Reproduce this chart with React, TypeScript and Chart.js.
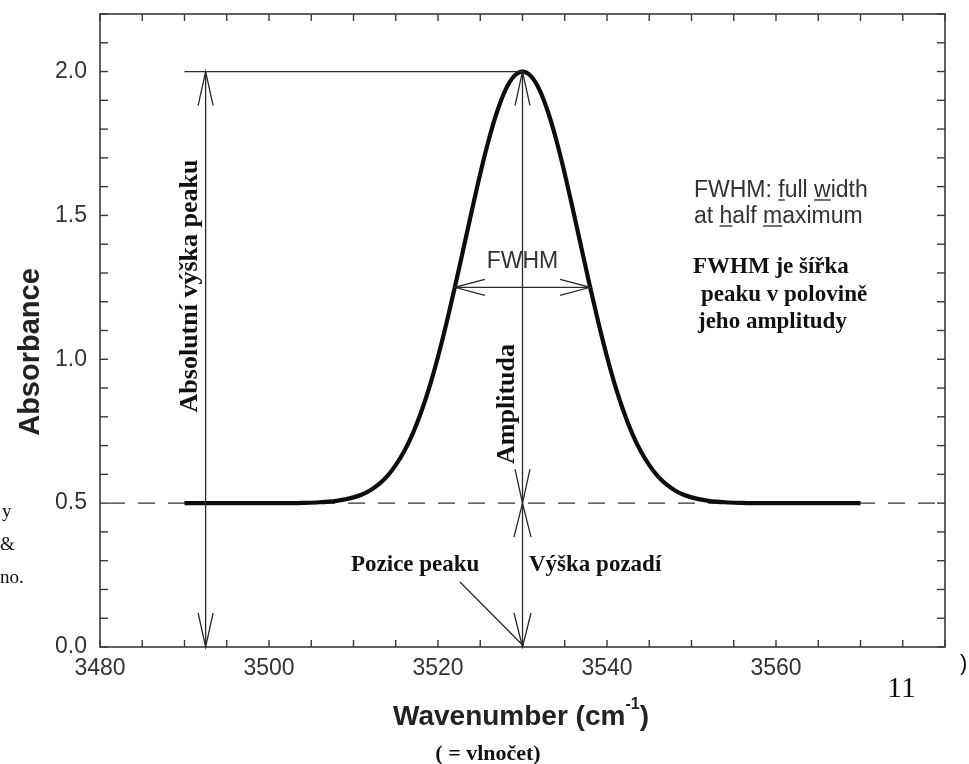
import React, { useEffect, useRef } from "react";
import { Chart, registerables } from "chart.js";

Chart.register(...registerables);

// Absorption band: wavenumber (cm^-1) and absorbance
const wavenumber = [
  3490, 3494, 3498, 3502, 3504, 3506, 3508, 3509, 3510, 3511, 3512, 3513, 3514,
  3515, 3516, 3517, 3518, 3519, 3520, 3521, 3522, 3523, 3524, 3525, 3526, 3527,
  3528, 3529, 3530, 3531, 3532, 3533, 3534, 3535, 3536, 3537, 3538, 3539, 3540,
  3541, 3542, 3543, 3544, 3545, 3546, 3547, 3548, 3549, 3550, 3551, 3552, 3554,
  3556, 3558, 3562, 3566, 3570,
];
const absorbance = [
  0.5, 0.5, 0.5, 0.5, 0.501, 0.503, 0.508, 0.513, 0.52, 0.53, 0.545, 0.566, 0.594,
  0.632, 0.68, 0.741, 0.816, 0.905, 1.009, 1.125, 1.251, 1.383, 1.516, 1.645, 1.762, 1.861,
  1.937, 1.984, 2.0, 1.984, 1.937, 1.861, 1.762, 1.645, 1.516, 1.383, 1.251, 1.125, 1.009,
  0.905, 0.816, 0.741, 0.68, 0.632, 0.594, 0.566, 0.545, 0.53, 0.52, 0.513, 0.508, 0.503,
  0.501, 0.5, 0.5, 0.5, 0.5,
];

// Axis tick labels
const xTickLabels = [3480, 3500, 3520, 3540, 3560];
const yTickLabels = [0.0, 0.5, 1.0, 1.5, 2.0];

// Peak parameters used by the annotation marks
const peakPosition = 3530;
const peakHeight = 2.0;
const backgroundLevel = 0.5;
const halfMaximum = 1.25;
const fwhmFrom = 3522;
const fwhmTo = 3538;
const absoluteArrowX = 3492.5;
const peakLineFrom = 3490;
const pointerFrom = { x: 3522.6, y: 0.226 };

const SANS = '"Liberation Sans", Arial, sans-serif';
const SERIF = '"Liberation Serif", "Times New Roman", serif';
const INK = "#2a2a2a";

function arrowHead(
  ctx: CanvasRenderingContext2D,
  tx: number,
  ty: number,
  dx: number,
  dy: number,
  len: number,
  half: number
) {
  const bx = tx - dx * len;
  const by = ty - dy * len;
  ctx.beginPath();
  ctx.moveTo(bx - dy * half, by + dx * half);
  ctx.lineTo(tx, ty);
  ctx.lineTo(bx + dy * half, by - dx * half);
  ctx.stroke();
}

function line(ctx: CanvasRenderingContext2D, x1: number, y1: number, x2: number, y2: number) {
  ctx.beginPath();
  ctx.moveTo(x1, y1);
  ctx.lineTo(x2, y2);
  ctx.stroke();
}

function rotatedText(ctx: CanvasRenderingContext2D, text: string, cx: number, cy: number) {
  ctx.save();
  ctx.translate(cx, cy);
  ctx.rotate(-Math.PI / 2);
  ctx.textAlign = "center";
  ctx.textBaseline = "middle";
  ctx.fillText(text, 0, 0);
  ctx.restore();
}

// Text with selected letters underlined (index list)
function underlinedText(
  ctx: CanvasRenderingContext2D,
  text: string,
  x: number,
  y: number,
  marks: number[]
) {
  ctx.textAlign = "left";
  ctx.textBaseline = "alphabetic";
  ctx.fillText(text, x, y);
  ctx.lineWidth = 1.4;
  for (const i of marks) {
    const a = x + ctx.measureText(text.slice(0, i)).width;
    const w = ctx.measureText(text[i]).width;
    line(ctx, a, y + 3, a + w, y + 3);
  }
}

const framePlugin = {
  id: "frameTicks",
  beforeDatasetsDraw(chart: any) {
    const { ctx, chartArea: ca, scales } = chart;
    const xs = scales.x;
    const ys = scales.y;
    ctx.save();
    // dashed background level
    ctx.strokeStyle = "#333";
    ctx.lineWidth = 1.2;
    ctx.setLineDash([17, 13]);
    const yb = ys.getPixelForValue(backgroundLevel);
    line(ctx, ca.left + 8, yb, ca.right - 4, yb);
    ctx.setLineDash([]);

    // frame
    ctx.strokeStyle = "#3a3a3a";
    ctx.lineWidth = 1.6;
    ctx.strokeRect(ca.left, ca.top, ca.right - ca.left, ca.bottom - ca.top);

    // inward ticks on all four sides
    ctx.lineWidth = 1.4;
    const tl = 7;
    for (const t of xs.ticks) {
      const px = xs.getPixelForValue(t.value);
      line(ctx, px, ca.bottom, px, ca.bottom - tl);
      line(ctx, px, ca.top, px, ca.top + tl);
    }
    for (const t of ys.ticks) {
      const py = ys.getPixelForValue(t.value);
      line(ctx, ca.left, py, ca.left + tl + 1, py);
      line(ctx, ca.right, py, ca.right - tl - 1, py);
    }
    ctx.restore();
  },
  afterDraw(chart: any) {
    const { ctx, scales } = chart;
    const xs = scales.x;
    const ys = scales.y;
    const X = (v: number) => xs.getPixelForValue(v);
    const Y = (v: number) => ys.getPixelForValue(v);
    ctx.save();
    ctx.strokeStyle = INK;
    ctx.lineWidth = 1.3;

    // peak height reference line
    line(ctx, X(peakLineFrom), Y(peakHeight), X(peakPosition), Y(peakHeight));

    // absolute peak height: double arrow from 0 to peak
    const ax = X(absoluteArrowX);
    line(ctx, ax, Y(peakHeight), ax, Y(0));
    arrowHead(ctx, ax, Y(peakHeight), 0, -1, 34, 7.5);
    arrowHead(ctx, ax, Y(0), 0, 1, 34, 7.5);

    // amplitude: from background level to peak
    const px = X(peakPosition);
    line(ctx, px, Y(peakHeight), px, Y(backgroundLevel));
    arrowHead(ctx, px, Y(peakHeight), 0, -1, 34, 7.5);
    arrowHead(ctx, px, Y(backgroundLevel), 0, 1, 34, 7.5);

    // background height: from 0 to background level
    line(ctx, px, Y(backgroundLevel), px, Y(0));
    arrowHead(ctx, px, Y(backgroundLevel), 0, -1, 34, 8.5);
    arrowHead(ctx, px, Y(0), 0, 1, 34, 8.5);

    // FWHM double arrow at half maximum
    const hy = Y(halfMaximum);
    line(ctx, X(fwhmFrom), hy, X(fwhmTo), hy);
    arrowHead(ctx, X(fwhmFrom), hy, -1, 0, 30, 8);
    arrowHead(ctx, X(fwhmTo), hy, 1, 0, 30, 8);

    // pointer from the peak-position label to the axis
    line(ctx, X(pointerFrom.x), Y(pointerFrom.y), px - 1, Y(0) - 3);

    // texts
    ctx.fillStyle = "#333";
    ctx.strokeStyle = "#333";
    ctx.font = `23px ${SANS}`;
    ctx.textAlign = "center";
    ctx.textBaseline = "middle";
    ctx.fillText("FWHM", px, 262);

    ctx.font = `23px ${SANS}`;
    underlinedText(ctx, "FWHM: full width", 694, 197, [6, 11]);
    underlinedText(ctx, "at half maximum", 694, 223, [3, 8]);

    ctx.fillStyle = "#111";
    ctx.font = `bold 23px ${SERIF}`;
    ctx.textAlign = "left";
    ctx.textBaseline = "middle";
    ctx.fillText("FWHM je šířka", 693, 267);
    ctx.fillText("peaku v polovině", 701, 295);
    ctx.fillText("jeho amplitudy", 698, 322);

    ctx.fillText("Pozice peaku", 351, 565);
    ctx.fillText("Výška pozadí", 529, 565);

    ctx.font = `bold 26px ${SERIF}`;
    rotatedText(ctx, "Absolutní výška peaku", 190, 286);
    rotatedText(ctx, "Amplituda", 507, 404);

    // axis titles
    ctx.fillStyle = "#222";
    ctx.font = `bold 29px ${SANS}`;
    rotatedText(ctx, "Absorbance", 31, 352);

    const main = "Wavenumber (cm";
    const sup = "-1";
    const close = ")";
    ctx.font = `bold 28px ${SANS}`;
    const wMain = ctx.measureText(main).width;
    const wClose = ctx.measureText(close).width;
    ctx.font = `bold 16px ${SANS}`;
    const wSup = ctx.measureText(sup).width;
    const total = wMain + wSup + wClose;
    let tx = 521 - total / 2;
    ctx.textAlign = "left";
    ctx.textBaseline = "alphabetic";
    ctx.font = `bold 28px ${SANS}`;
    ctx.fillText(main, tx, 725);
    tx += wMain;
    ctx.font = `bold 16px ${SANS}`;
    ctx.fillText(sup, tx, 709);
    tx += wSup;
    ctx.font = `bold 28px ${SANS}`;
    ctx.fillText(close, tx, 725);

    ctx.fillStyle = "#111";
    ctx.font = `bold 22px ${SERIF}`;
    ctx.textAlign = "center";
    ctx.textBaseline = "middle";
    ctx.fillText("( = vlnočet)", 488, 754);

    // page number and margin fragments
    ctx.font = `30px ${SERIF}`;
    ctx.textAlign = "left";
    ctx.fillText("11", 887, 689);
    ctx.font = `19px ${SERIF}`;
    ctx.fillText("y", 2, 512);
    ctx.fillText("&", 0, 545);
    ctx.fillText("no.", 0, 578);
    ctx.font = `22px ${SANS}`;
    ctx.fillText(")", 960, 664);
    ctx.restore();
  },
};

export default function App() {
  const ref = useRef<HTMLCanvasElement | null>(null);

  useEffect(() => {
    if (!ref.current) return;
    const points = wavenumber.map((w, i) => ({ x: w, y: absorbance[i] }));
    const chart = new Chart(ref.current, {
      type: "line",
      data: {
        datasets: [
          {
            label: "Absorbance",
            data: points,
            borderColor: "#0d0d0d",
            borderWidth: 4.2,
            pointRadius: 0,
            fill: false,
            cubicInterpolationMode: "monotone",
          },
        ],
      },
      options: {
        responsive: false,
        animation: false,
        events: [],
        layout: { padding: { left: 0, top: 14, right: 24, bottom: 0 } },
        plugins: {
          legend: { display: false },
          tooltip: { enabled: false },
        },
        scales: {
          x: {
            type: "linear",
            min: 3480,
            max: 3580,
            grid: { display: false, drawTicks: false },
            border: { display: false },
            afterFit: (s: any) => {
              s.height = 117;
              s.paddingLeft = 0;
              s.paddingRight = 0;
            },
            ticks: {
              stepSize: 5,
              autoSkip: false,
              includeBounds: false,
              maxRotation: 0,
              padding: 8,
              color: "#333",
              font: { family: SANS, size: 23 },
              callback: (v: any) => (xTickLabels.includes(Number(v)) ? String(v) : ""),
            },
          },
          y: {
            type: "linear",
            min: 0,
            max: 2.2,
            grid: { display: false, drawTicks: false },
            border: { display: false },
            afterFit: (s: any) => {
              s.width = 100;
              s.paddingTop = 0;
              s.paddingBottom = 0;
            },
            ticks: {
              stepSize: 0.1,
              autoSkip: false,
              padding: 13,
              color: "#333",
              font: { family: SANS, size: 23 },
              callback: (v: any) => {
                const n = Number(v);
                const hit = yTickLabels.find((t) => Math.abs(t - n) < 1e-6);
                return hit !== undefined ? hit.toFixed(1) : "";
              },
            },
          },
        },
      },
      plugins: [framePlugin],
    });
    return () => chart.destroy();
  }, []);

  return (
    <div style={{ position: "absolute", left: 0, top: 0, width: 969, height: 764, background: "#fff" }}>
      <canvas ref={ref} width={969} height={764} />
    </div>
  );
}
